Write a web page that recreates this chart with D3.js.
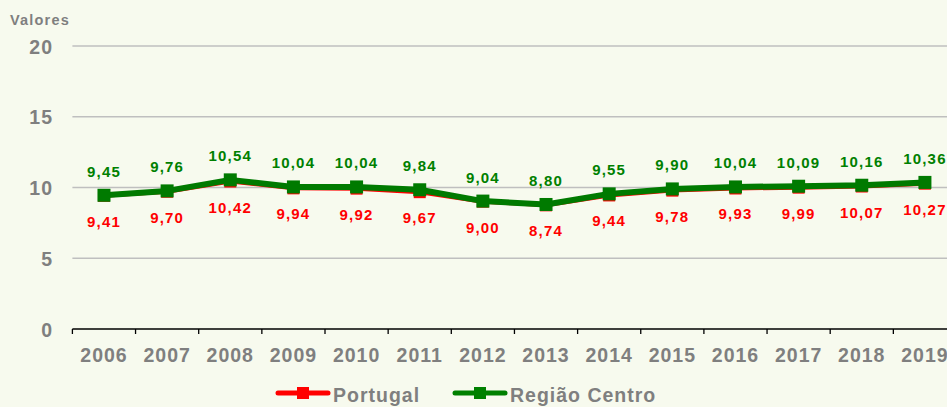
<!DOCTYPE html>
<html><head><meta charset="utf-8">
<script src="https://cdn.jsdelivr.net/npm/d3@7"></script>
<style>
html,body{margin:0;padding:0;background:#f7faee;}
svg{display:block;font-family:"Liberation Sans",Arial,sans-serif;font-weight:bold;}
</style></head>
<body>
<svg id="c" width="947" height="407"></svg>
<script>
const years = ["2006","2007","2008","2009","2010","2011","2012","2013","2014","2015","2016","2017","2018","2019"];
const portugal = [9.41,9.70,10.42,9.94,9.92,9.67,9.00,8.74,9.44,9.78,9.93,9.99,10.07,10.27];
const centro = [9.45,9.76,10.54,10.04,10.04,9.84,9.04,8.80,9.55,9.90,10.04,10.09,10.16,10.36];
const yTicks = [0,5,10,15,20];
const seriesNames = ["Portugal","Região Centro"];

const svg = d3.select("#c");
const left = 72.4, band = 63.15;
const x = d3.scaleBand().domain(years).range([left, left + band*years.length]).paddingInner(0).paddingOuter(0);
const y = d3.scaleLinear().domain([0,20]).range([329,46]);
const gray = "#7f7f7f";
const fmt = v => v.toFixed(2).replace(".", ",");

// gridlines
svg.append("g").selectAll("line").data(yTicks.filter(d=>d>0)).join("line")
  .attr("x1", left).attr("x2", 947).attr("y1", d=>y(d)).attr("y2", d=>y(d))
  .attr("stroke", "#bfbfbf").attr("stroke-width", 1.5);

// y labels
svg.append("g").selectAll("text").data(yTicks).join("text")
  .attr("x", 53).attr("y", d=>y(d)+7.5).attr("text-anchor","end")
  .attr("fill", gray).attr("font-size", 19.5).attr("letter-spacing", 1).text(d=>d);

svg.append("text").attr("x",10).attr("y",25).attr("fill",gray).attr("font-size",14.5).attr("letter-spacing",1.2).text("Valores");

// x axis
const xAxis = d3.axisBottom(x).tickSize(0).tickFormat(d=>d);
const gx = svg.append("g").attr("transform", `translate(0,${y(0)})`).call(xAxis);
gx.select(".domain").attr("stroke","#000").attr("stroke-width",1.3).attr("d", `M${left},0H947`);
gx.selectAll("text").attr("fill", gray).attr("font-size", 19.5).attr("letter-spacing", 1)
  .attr("font-family","Liberation Sans, Arial, sans-serif").attr("font-weight","bold")
  .attr("dy", null).attr("y", 32.5);
// boundary ticks
svg.append("g").selectAll("line").data(d3.range(years.length+1)).join("line")
  .attr("x1", i=>left+i*band).attr("x2", i=>left+i*band)
  .attr("y1", y(0)).attr("y2", y(0)+5).attr("stroke","#000").attr("stroke-width",1.3);

const cx = d => x(d) + x.bandwidth()/2;
const line = d3.line().x((d,i)=>cx(years[i])).y(d=>y(d));

// Portugal
svg.append("path").datum(portugal).attr("d", line).attr("fill","none").attr("stroke","#ff0000").attr("stroke-width",4).attr("stroke-linejoin","round");
svg.append("g").selectAll("rect").data(portugal).join("rect")
  .attr("x",(d,i)=>cx(years[i])-6).attr("y",d=>y(d)-6+2).attr("width",12).attr("height",10).attr("fill","#ff0000");

// Centro
svg.append("path").datum(centro).attr("d", line).attr("fill","none").attr("stroke","#007a00").attr("stroke-width",6).attr("stroke-linejoin","round");
svg.append("g").selectAll("rect").data(centro).join("rect")
  .attr("x",(d,i)=>cx(years[i])-6.5).attr("y",d=>y(d)-6.5).attr("width",13).attr("height",13).attr("fill","#007a00");

// labels
svg.append("g").selectAll("text").data(centro).join("text")
  .attr("x",(d,i)=>cx(years[i])).attr("y",d=>y(d)-18.5).attr("text-anchor","middle")
  .attr("fill","#008000").attr("font-size",15).attr("letter-spacing",1.2).text(fmt);
svg.append("g").selectAll("text").data(portugal).join("text")
  .attr("x",(d,i)=>cx(years[i])).attr("y",d=>y(d)+31).attr("text-anchor","middle")
  .attr("fill","#ff0000").attr("font-size",15).attr("letter-spacing",1.2).text(fmt);

// legend
const leg = [{name:seriesNames[0], c:"#ff0000", x:278}, {name:seriesNames[1], c:"#008000", x:455}];
const lg = svg.append("g").selectAll("g").data(leg).join("g").attr("transform", d=>`translate(${d.x},393)`);
lg.append("line").attr("x1",0).attr("x2",50).attr("stroke",d=>d.c).attr("stroke-width",5).attr("stroke-linecap","round");
lg.append("rect").attr("x",19).attr("y",-6).attr("width",12).attr("height",12).attr("fill",d=>d.c);
lg.append("text").attr("x",55).attr("y",8.5).attr("fill",gray).attr("font-size",19.5).attr("letter-spacing",1).text(d=>d.name);
</script>
</body></html>
